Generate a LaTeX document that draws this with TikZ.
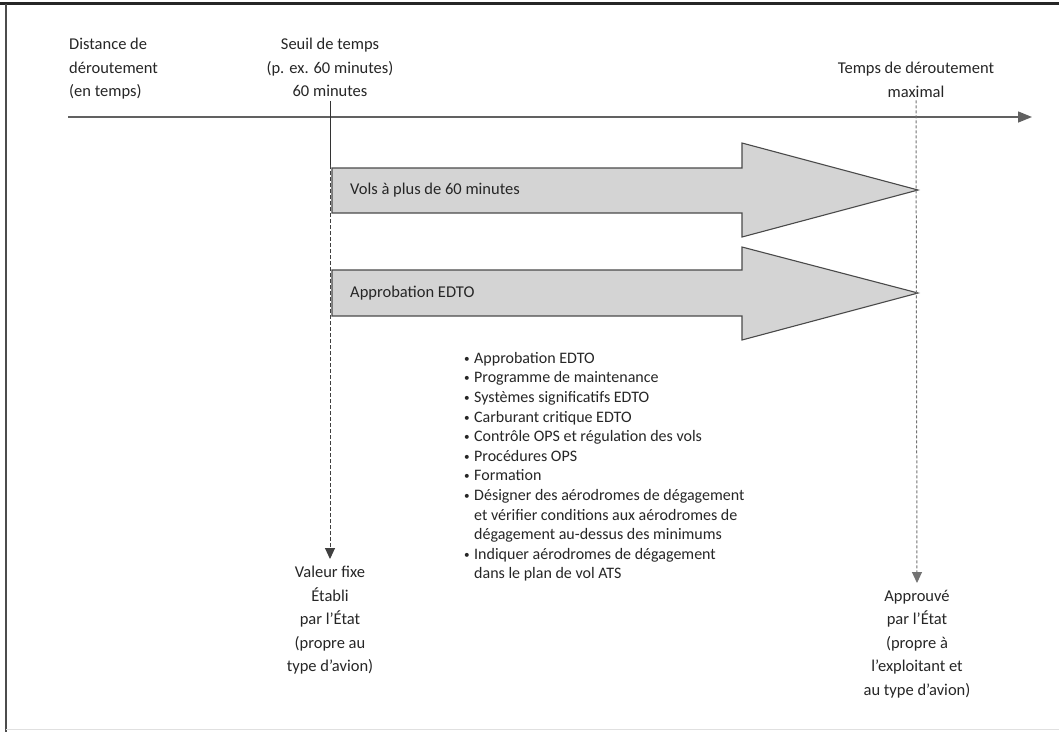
\documentclass[tikz,border=0pt]{standalone}
\usepackage{fontspec}
\setmainfont{Carlito}
\usetikzlibrary{arrows.meta}
\definecolor{txt}{HTML}{262626}
\definecolor{fillg}{HTML}{D4D4D4}
\definecolor{edge}{HTML}{4A4A4A}
\begin{document}
\begin{tikzpicture}[x=1pt,y=-1pt,
  every node/.style={text=txt, inner sep=0pt},
  lbl/.style={font=\fontsize{16.5}{23.5}\selectfont, align=center},
  lst/.style={font=\fontsize{16}{19.6}\selectfont, align=left},
  arrtxt/.style={font=\fontsize{16.5}{20}\selectfont, anchor=west},
  bigarrow/.style={draw=edge, line width=1.1pt, fill=fillg, line join=miter},
  axisline/.style={draw=black!62, line width=1.4pt, -{Triangle[length=14pt,width=11pt]}},
  solidlink/.style={draw=black!80, line width=1pt},
  dashlink/.style={draw=black!75, line width=1pt, dash pattern=on 4pt off 2pt, -{Triangle[length=11pt,width=10pt]}},
  dotlink/.style={draw=black!55, line width=1pt, dash pattern=on 3pt off 2pt, -{Triangle[length=11pt,width=10pt]}}]
\useasboundingbox (0,0) rectangle (1059,732);
\fill[white] (0,0) rectangle (1059,732);
% frame
\draw[black!85, line width=2.6pt] (0,3.5) -- (1059,3.5);
\draw[black!70, line width=1.8pt] (6,3.5) -- (6,732);
\draw[black!12, line width=1pt] (6,729.5) -- (1059,729.5);
% axis
\coordinate (ax0) at (68,117);
\coordinate (ax1) at (1032,117);
\draw[axisline] (ax0) -- (ax1);
% top labels
\node[lbl, align=left, anchor=north west] (dist) at (69,38) {Distance de\\déroutement\\(en temps)};
\node[lbl, anchor=north] (seuil) at (330,38) {Seuil de temps\\(p. ex. 60 minutes)\\60 minutes};
\node[lbl, anchor=north] (tmax) at (916,62) {Temps de déroutement\\maximal};
% big arrows
\draw[bigarrow] (332,168) -- (742,168) -- (742,143) -- (918,190) -- (742,237) -- (742,213) -- (332,213) -- cycle;
\draw[bigarrow] (332,270) -- (742,270) -- (742,247) -- (918,293) -- (742,340) -- (742,316) -- (332,316) -- cycle;
\node[arrtxt] (vols) at (350,190) {Vols à plus de 60 minutes};
\node[arrtxt] (appr) at (350,293) {Approbation EDTO};
% bottom labels
\node[lbl, anchor=north] (valeur) at (330,566) {Valeur fixe\\Établi\\par l'État\\(propre au\\type d'avion)};
\node[lbl, anchor=north] (approuve) at (917,590) {Approuvé\\par l'État\\(propre à\\l'exploitant et\\au type d'avion)};
% vertical connectors
\coordinate (s1) at (330,165);
\draw[solidlink] ([yshift=-4pt]seuil.south) -- (s1);
\draw[dashlink] (s1) -- ([yshift=7pt]valeur.north);
\draw[dotlink] ([yshift=-3pt]tmax.south) -- ([yshift=7pt]approuve.north);
% list
\newcommand{\bl}{\makebox[10pt][l]{\raisebox{1pt}{\scalebox{0.7}{•}}}}
\newcommand{\cl}{\hspace*{10pt}}
\node[lst, anchor=north west] (liste) at (464,352) {%
\bl Approbation EDTO\\
\bl Programme de maintenance\\
\bl Systèmes significatifs EDTO\\
\bl Carburant critique EDTO\\
\bl Contrôle OPS et régulation des vols\\
\bl Procédures OPS\\
\bl Formation\\
\bl Désigner des aérodromes de dégagement\\
\cl et vérifier conditions aux aérodromes de\\
\cl dégagement au-dessus des minimums\\
\bl Indiquer aérodromes de dégagement\\
\cl dans le plan de vol ATS};
\end{tikzpicture}
\end{document}
